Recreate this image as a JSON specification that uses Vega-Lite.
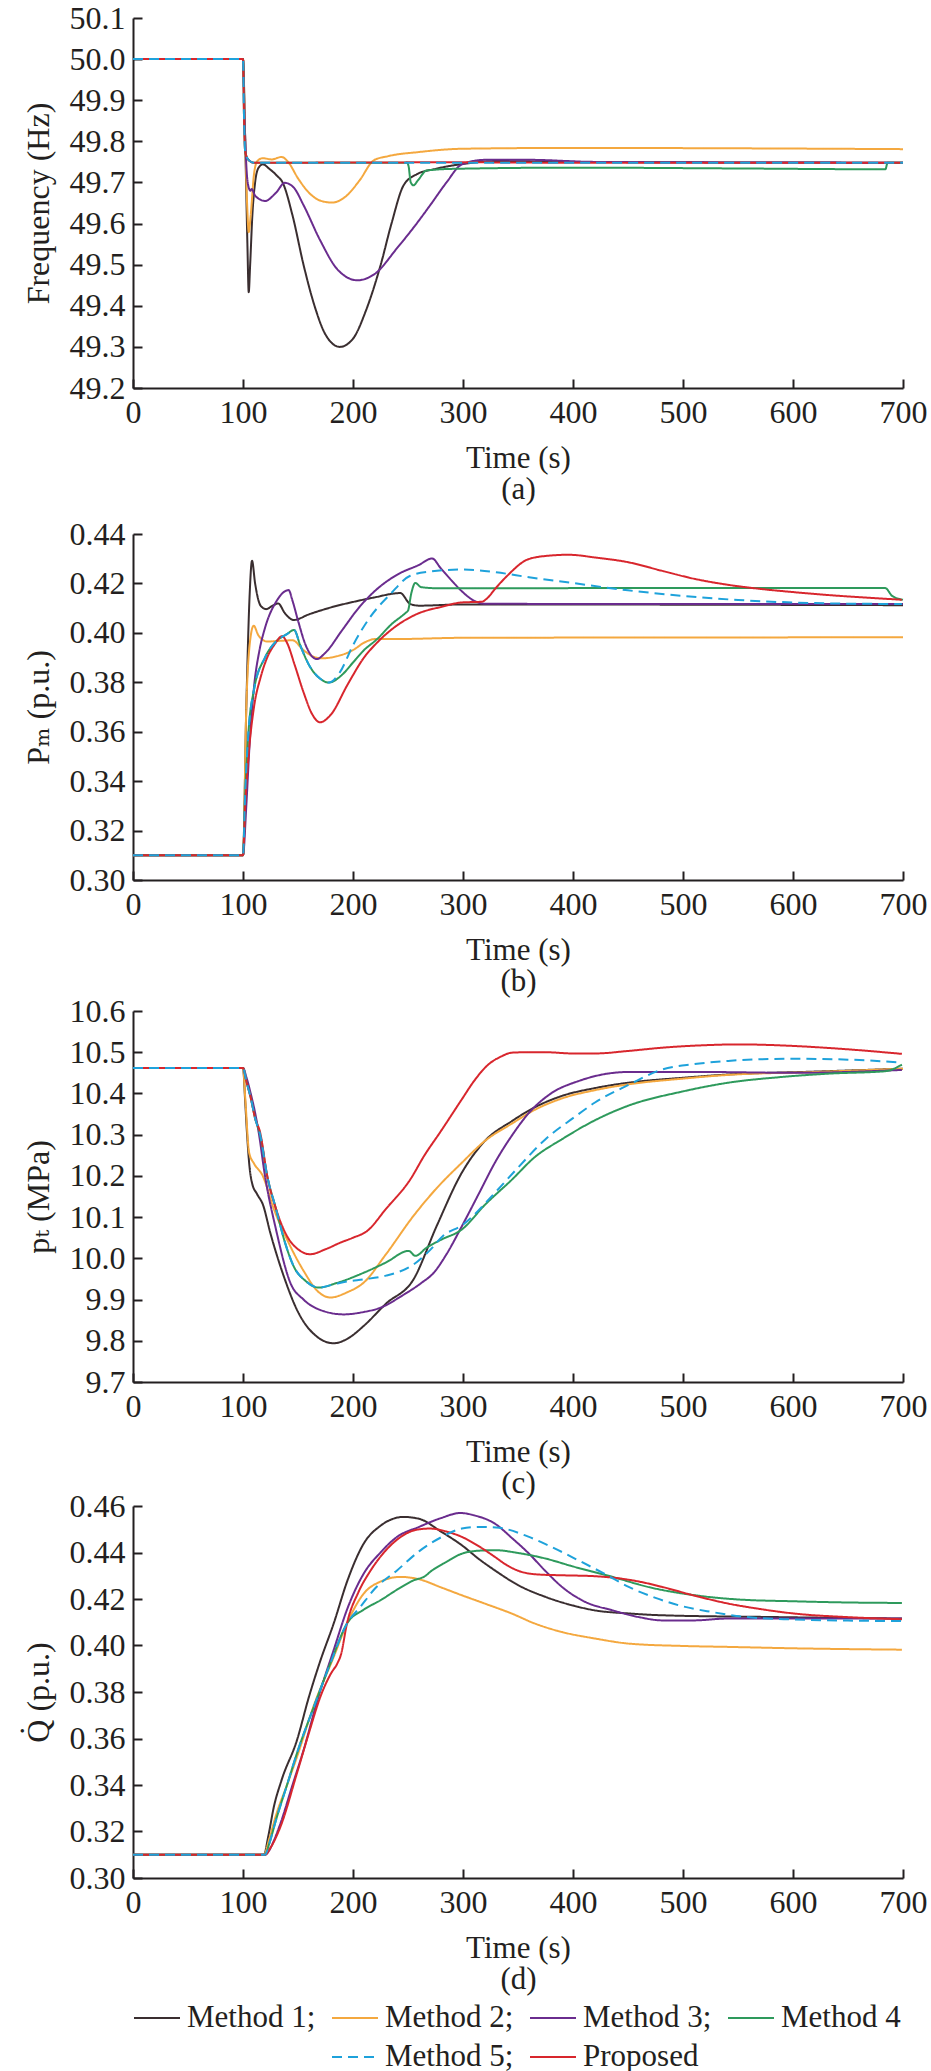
{
  "$schema": "https://vega.github.io/schema/vega-lite/v6.json",
  "description": "Frequency, mechanical power, throttle pressure and heat rate responses of six control methods after a load step at 100 s.",
  "background": "white",
  "padding": {"left": 22, "top": 2, "right": 0, "bottom": 0},
  "config": {
    "font": "Liberation Serif, Times New Roman, DejaVu Serif, serif",
    "view": {"stroke": null},
    "line": {"strokeWidth": 2, "interpolate": "monotone"},
    "axis": {
      "grid": false,
      "labelFont": "Liberation Serif, Times New Roman, DejaVu Serif, serif",
      "labelFontSize": 32,
      "labelColor": "#231f20",
      "labelFlush": false,
      "labelOverlap": false,
      "titleFont": "Liberation Serif, Times New Roman, DejaVu Serif, serif",
      "titleFontSize": 32,
      "titleFontWeight": "normal",
      "titleColor": "#231f20",
      "domainColor": "#231f20",
      "domainWidth": 2,
      "tickColor": "#231f20",
      "tickWidth": 2,
      "tickSize": -9
    },
    "axisX": {"labelPadding": 18, "titlePadding": 15, "titleFontSize": 31, "titleLineHeight": 31},
    "axisY": {"labelPadding": 17, "titlePadding": 14},
    "legend": {
      "orient": "bottom",
      "direction": "horizontal",
      "columns": 4,
      "symbolType": "stroke",
      "symbolSize": 2116,
      "symbolStrokeWidth": 2,
      "labelFont": "Liberation Serif, Times New Roman, DejaVu Serif, serif",
      "labelFontSize": 31,
      "labelColor": "#231f20",
      "labelOffset": 6,
      "labelLimit": 0,
      "columnPadding": 12,
      "rowPadding": -12,
      "offset": 0,
      "padding": 0
    }
  },
  "datasets": {
    "a": [
      {"m": "Method 1", "t": 0, "v": 50.0}, {"m": "Method 1", "t": 100, "v": 50.0}, {"m": "Method 1", "t": 102, "v": 49.8},
      {"m": "Method 1", "t": 104, "v": 49.55}, {"m": "Method 1", "t": 105.2, "v": 49.433}, {"m": "Method 1", "t": 106.5, "v": 49.5},
      {"m": "Method 1", "t": 108.5, "v": 49.62}, {"m": "Method 1", "t": 111, "v": 49.7}, {"m": "Method 1", "t": 114, "v": 49.735},
      {"m": "Method 1", "t": 118, "v": 49.744}, {"m": "Method 1", "t": 124, "v": 49.733}, {"m": "Method 1", "t": 131, "v": 49.716},
      {"m": "Method 1", "t": 136, "v": 49.7}, {"m": "Method 1", "t": 145, "v": 49.62}, {"m": "Method 1", "t": 155, "v": 49.5},
      {"m": "Method 1", "t": 165, "v": 49.4}, {"m": "Method 1", "t": 175, "v": 49.33}, {"m": "Method 1", "t": 188, "v": 49.3},
      {"m": "Method 1", "t": 200, "v": 49.32}, {"m": "Method 1", "t": 212, "v": 49.39}, {"m": "Method 1", "t": 225, "v": 49.498},
      {"m": "Method 1", "t": 235, "v": 49.6}, {"m": "Method 1", "t": 246, "v": 49.693}, {"m": "Method 1", "t": 258, "v": 49.72},
      {"m": "Method 1", "t": 275, "v": 49.733}, {"m": "Method 1", "t": 300, "v": 49.745}, {"m": "Method 1", "t": 330, "v": 49.752},
      {"m": "Method 1", "t": 400, "v": 49.75}, {"m": "Method 1", "t": 700, "v": 49.748},

      {"m": "Method 2", "t": 0, "v": 50.0}, {"m": "Method 2", "t": 100, "v": 50.0}, {"m": "Method 2", "t": 102, "v": 49.8},
      {"m": "Method 2", "t": 104, "v": 49.63}, {"m": "Method 2", "t": 105.2, "v": 49.579}, {"m": "Method 2", "t": 107, "v": 49.62},
      {"m": "Method 2", "t": 110, "v": 49.72}, {"m": "Method 2", "t": 113, "v": 49.752}, {"m": "Method 2", "t": 118, "v": 49.759},
      {"m": "Method 2", "t": 126, "v": 49.756}, {"m": "Method 2", "t": 135, "v": 49.762}, {"m": "Method 2", "t": 141, "v": 49.75},
      {"m": "Method 2", "t": 150, "v": 49.71}, {"m": "Method 2", "t": 160, "v": 49.675}, {"m": "Method 2", "t": 170, "v": 49.656},
      {"m": "Method 2", "t": 181, "v": 49.651}, {"m": "Method 2", "t": 193, "v": 49.665}, {"m": "Method 2", "t": 206, "v": 49.705},
      {"m": "Method 2", "t": 219, "v": 49.754}, {"m": "Method 2", "t": 232, "v": 49.764}, {"m": "Method 2", "t": 260, "v": 49.774},
      {"m": "Method 2", "t": 300, "v": 49.782}, {"m": "Method 2", "t": 400, "v": 49.784}, {"m": "Method 2", "t": 550, "v": 49.783},
      {"m": "Method 2", "t": 700, "v": 49.781},

      {"m": "Method 3", "t": 0, "v": 50.0}, {"m": "Method 3", "t": 100, "v": 50.0}, {"m": "Method 3", "t": 101.5, "v": 49.85},
      {"m": "Method 3", "t": 103.5, "v": 49.72}, {"m": "Method 3", "t": 105.5, "v": 49.685}, {"m": "Method 3", "t": 106.7, "v": 49.68},
      {"m": "Method 3", "t": 108, "v": 49.684}, {"m": "Method 3", "t": 111, "v": 49.668}, {"m": "Method 3", "t": 120, "v": 49.655},
      {"m": "Method 3", "t": 130, "v": 49.675}, {"m": "Method 3", "t": 138, "v": 49.699}, {"m": "Method 3", "t": 146, "v": 49.688},
      {"m": "Method 3", "t": 155, "v": 49.645}, {"m": "Method 3", "t": 170, "v": 49.56}, {"m": "Method 3", "t": 186, "v": 49.488},
      {"m": "Method 3", "t": 204, "v": 49.462}, {"m": "Method 3", "t": 220, "v": 49.478}, {"m": "Method 3", "t": 240, "v": 49.54},
      {"m": "Method 3", "t": 255, "v": 49.59}, {"m": "Method 3", "t": 270, "v": 49.644}, {"m": "Method 3", "t": 285, "v": 49.7},
      {"m": "Method 3", "t": 299, "v": 49.744}, {"m": "Method 3", "t": 320, "v": 49.755}, {"m": "Method 3", "t": 360, "v": 49.755},
      {"m": "Method 3", "t": 420, "v": 49.75}, {"m": "Method 3", "t": 700, "v": 49.748},

      {"m": "Method 4", "t": 0, "v": 50.0}, {"m": "Method 4", "t": 100, "v": 50.0}, {"m": "Method 4", "t": 101, "v": 49.85},
      {"m": "Method 4", "t": 102, "v": 49.775}, {"m": "Method 4", "t": 105, "v": 49.755}, {"m": "Method 4", "t": 110, "v": 49.748},
      {"m": "Method 4", "t": 249, "v": 49.748}, {"m": "Method 4", "t": 250.5, "v": 49.74}, {"m": "Method 4", "t": 252.5, "v": 49.7},
      {"m": "Method 4", "t": 255, "v": 49.693}, {"m": "Method 4", "t": 259, "v": 49.705}, {"m": "Method 4", "t": 267, "v": 49.729},
      {"m": "Method 4", "t": 290, "v": 49.733}, {"m": "Method 4", "t": 400, "v": 49.736}, {"m": "Method 4", "t": 550, "v": 49.734},
      {"m": "Method 4", "t": 684, "v": 49.732}, {"m": "Method 4", "t": 686, "v": 49.748}, {"m": "Method 4", "t": 700, "v": 49.748},

      {"m": "Proposed", "t": 0, "v": 50.0}, {"m": "Proposed", "t": 100, "v": 50.0}, {"m": "Proposed", "t": 101, "v": 49.85},
      {"m": "Proposed", "t": 102, "v": 49.775}, {"m": "Proposed", "t": 105, "v": 49.755}, {"m": "Proposed", "t": 110, "v": 49.748},
      {"m": "Proposed", "t": 300, "v": 49.749}, {"m": "Proposed", "t": 400, "v": 49.748}, {"m": "Proposed", "t": 700, "v": 49.748},

      {"m": "Method 5", "t": 0, "v": 50.0}, {"m": "Method 5", "t": 100, "v": 50.0}, {"m": "Method 5", "t": 101, "v": 49.85},
      {"m": "Method 5", "t": 102, "v": 49.775}, {"m": "Method 5", "t": 105, "v": 49.755}, {"m": "Method 5", "t": 110, "v": 49.748},
      {"m": "Method 5", "t": 300, "v": 49.748}, {"m": "Method 5", "t": 400, "v": 49.748}, {"m": "Method 5", "t": 700, "v": 49.748}
    ],
    "b": [
      {"m": "Method 1", "t": 0, "v": 0.31}, {"m": "Method 1", "t": 100, "v": 0.31}, {"m": "Method 1", "t": 103, "v": 0.37},
      {"m": "Method 1", "t": 106, "v": 0.415}, {"m": "Method 1", "t": 108.2, "v": 0.4292}, {"m": "Method 1", "t": 111, "v": 0.42},
      {"m": "Method 1", "t": 116, "v": 0.411}, {"m": "Method 1", "t": 121, "v": 0.4096}, {"m": "Method 1", "t": 127, "v": 0.411},
      {"m": "Method 1", "t": 132, "v": 0.4119}, {"m": "Method 1", "t": 138, "v": 0.408}, {"m": "Method 1", "t": 146, "v": 0.4052},
      {"m": "Method 1", "t": 160, "v": 0.4075}, {"m": "Method 1", "t": 180, "v": 0.4103}, {"m": "Method 1", "t": 200, "v": 0.4125},
      {"m": "Method 1", "t": 219, "v": 0.4143}, {"m": "Method 1", "t": 243, "v": 0.4161}, {"m": "Method 1", "t": 252, "v": 0.4117},
      {"m": "Method 1", "t": 260, "v": 0.411}, {"m": "Method 1", "t": 300, "v": 0.4115}, {"m": "Method 1", "t": 700, "v": 0.4112},

      {"m": "Method 2", "t": 0, "v": 0.31}, {"m": "Method 2", "t": 100, "v": 0.31}, {"m": "Method 2", "t": 103, "v": 0.37},
      {"m": "Method 2", "t": 106, "v": 0.395}, {"m": "Method 2", "t": 109.7, "v": 0.4029}, {"m": "Method 2", "t": 114, "v": 0.399},
      {"m": "Method 2", "t": 122, "v": 0.3965}, {"m": "Method 2", "t": 135, "v": 0.3968}, {"m": "Method 2", "t": 145, "v": 0.397},
      {"m": "Method 2", "t": 155, "v": 0.393}, {"m": "Method 2", "t": 165, "v": 0.3902}, {"m": "Method 2", "t": 172, "v": 0.3897},
      {"m": "Method 2", "t": 185, "v": 0.3905}, {"m": "Method 2", "t": 200, "v": 0.393}, {"m": "Method 2", "t": 210, "v": 0.396},
      {"m": "Method 2", "t": 220, "v": 0.3975}, {"m": "Method 2", "t": 240, "v": 0.3975}, {"m": "Method 2", "t": 300, "v": 0.398},
      {"m": "Method 2", "t": 700, "v": 0.3982},

      {"m": "Method 3", "t": 0, "v": 0.31}, {"m": "Method 3", "t": 100, "v": 0.31}, {"m": "Method 3", "t": 103, "v": 0.33},
      {"m": "Method 3", "t": 106, "v": 0.355}, {"m": "Method 3", "t": 110, "v": 0.378}, {"m": "Method 3", "t": 115, "v": 0.393},
      {"m": "Method 3", "t": 120, "v": 0.402}, {"m": "Method 3", "t": 130, "v": 0.4125}, {"m": "Method 3", "t": 141.5, "v": 0.4173},
      {"m": "Method 3", "t": 145, "v": 0.413}, {"m": "Method 3", "t": 150, "v": 0.405}, {"m": "Method 3", "t": 157, "v": 0.395},
      {"m": "Method 3", "t": 167, "v": 0.3894}, {"m": "Method 3", "t": 175, "v": 0.392}, {"m": "Method 3", "t": 190, "v": 0.401},
      {"m": "Method 3", "t": 205, "v": 0.41}, {"m": "Method 3", "t": 220, "v": 0.417}, {"m": "Method 3", "t": 240, "v": 0.4235},
      {"m": "Method 3", "t": 260, "v": 0.4275}, {"m": "Method 3", "t": 271.8, "v": 0.4301}, {"m": "Method 3", "t": 280, "v": 0.426},
      {"m": "Method 3", "t": 290, "v": 0.421}, {"m": "Method 3", "t": 300, "v": 0.4164}, {"m": "Method 3", "t": 310, "v": 0.413},
      {"m": "Method 3", "t": 320, "v": 0.4118}, {"m": "Method 3", "t": 400, "v": 0.4117}, {"m": "Method 3", "t": 700, "v": 0.4117},

      {"m": "Method 4", "t": 0, "v": 0.31}, {"m": "Method 4", "t": 100, "v": 0.31}, {"m": "Method 4", "t": 102, "v": 0.335},
      {"m": "Method 4", "t": 105, "v": 0.36}, {"m": "Method 4", "t": 110, "v": 0.377}, {"m": "Method 4", "t": 120, "v": 0.39},
      {"m": "Method 4", "t": 130, "v": 0.3965}, {"m": "Method 4", "t": 140, "v": 0.3995}, {"m": "Method 4", "t": 146.4, "v": 0.4012},
      {"m": "Method 4", "t": 152, "v": 0.395}, {"m": "Method 4", "t": 160, "v": 0.387}, {"m": "Method 4", "t": 170, "v": 0.3815},
      {"m": "Method 4", "t": 178, "v": 0.3799}, {"m": "Method 4", "t": 190, "v": 0.383}, {"m": "Method 4", "t": 200, "v": 0.388},
      {"m": "Method 4", "t": 210, "v": 0.393}, {"m": "Method 4", "t": 222, "v": 0.3975}, {"m": "Method 4", "t": 235, "v": 0.4035},
      {"m": "Method 4", "t": 247.6, "v": 0.408}, {"m": "Method 4", "t": 250, "v": 0.409}, {"m": "Method 4", "t": 253, "v": 0.416},
      {"m": "Method 4", "t": 256.6, "v": 0.4202}, {"m": "Method 4", "t": 262, "v": 0.4185}, {"m": "Method 4", "t": 280, "v": 0.418},
      {"m": "Method 4", "t": 400, "v": 0.4181}, {"m": "Method 4", "t": 684, "v": 0.4181}, {"m": "Method 4", "t": 690, "v": 0.415},
      {"m": "Method 4", "t": 700, "v": 0.4134},

      {"m": "Proposed", "t": 0, "v": 0.31}, {"m": "Proposed", "t": 100, "v": 0.31}, {"m": "Proposed", "t": 102, "v": 0.33},
      {"m": "Proposed", "t": 105, "v": 0.35}, {"m": "Proposed", "t": 110, "v": 0.37}, {"m": "Proposed", "t": 116, "v": 0.382},
      {"m": "Proposed", "t": 122, "v": 0.39}, {"m": "Proposed", "t": 129, "v": 0.3955}, {"m": "Proposed", "t": 135.5, "v": 0.3986},
      {"m": "Proposed", "t": 140, "v": 0.396}, {"m": "Proposed", "t": 147, "v": 0.387}, {"m": "Proposed", "t": 155, "v": 0.376},
      {"m": "Proposed", "t": 163, "v": 0.367}, {"m": "Proposed", "t": 170, "v": 0.3638}, {"m": "Proposed", "t": 180, "v": 0.367},
      {"m": "Proposed", "t": 195, "v": 0.379}, {"m": "Proposed", "t": 210, "v": 0.39}, {"m": "Proposed", "t": 222, "v": 0.3961},
      {"m": "Proposed", "t": 240, "v": 0.403}, {"m": "Proposed", "t": 258, "v": 0.4076}, {"m": "Proposed", "t": 280, "v": 0.4105},
      {"m": "Proposed", "t": 299, "v": 0.4123}, {"m": "Proposed", "t": 317, "v": 0.4126}, {"m": "Proposed", "t": 322, "v": 0.414},
      {"m": "Proposed", "t": 329, "v": 0.4177}, {"m": "Proposed", "t": 340, "v": 0.423}, {"m": "Proposed", "t": 360, "v": 0.4299},
      {"m": "Proposed", "t": 380, "v": 0.4313}, {"m": "Proposed", "t": 396, "v": 0.4316}, {"m": "Proposed", "t": 420, "v": 0.4305},
      {"m": "Proposed", "t": 451, "v": 0.4285}, {"m": "Proposed", "t": 480, "v": 0.4252}, {"m": "Proposed", "t": 511, "v": 0.4218},
      {"m": "Proposed", "t": 540, "v": 0.4195}, {"m": "Proposed", "t": 572, "v": 0.4177}, {"m": "Proposed", "t": 600, "v": 0.4165},
      {"m": "Proposed", "t": 632, "v": 0.4153}, {"m": "Proposed", "t": 665, "v": 0.4143}, {"m": "Proposed", "t": 699, "v": 0.4134},

      {"m": "Method 5", "t": 0, "v": 0.31}, {"m": "Method 5", "t": 100, "v": 0.31}, {"m": "Method 5", "t": 102, "v": 0.335},
      {"m": "Method 5", "t": 105, "v": 0.36}, {"m": "Method 5", "t": 110, "v": 0.377}, {"m": "Method 5", "t": 120, "v": 0.39},
      {"m": "Method 5", "t": 130, "v": 0.3965}, {"m": "Method 5", "t": 140, "v": 0.3995}, {"m": "Method 5", "t": 146.4, "v": 0.4012},
      {"m": "Method 5", "t": 152, "v": 0.395}, {"m": "Method 5", "t": 160, "v": 0.387}, {"m": "Method 5", "t": 170, "v": 0.3815},
      {"m": "Method 5", "t": 178, "v": 0.3799}, {"m": "Method 5", "t": 188, "v": 0.384}, {"m": "Method 5", "t": 200, "v": 0.395},
      {"m": "Method 5", "t": 215, "v": 0.406}, {"m": "Method 5", "t": 234, "v": 0.4157}, {"m": "Method 5", "t": 252, "v": 0.4231},
      {"m": "Method 5", "t": 270, "v": 0.4248}, {"m": "Method 5", "t": 299, "v": 0.4256}, {"m": "Method 5", "t": 330, "v": 0.4245},
      {"m": "Method 5", "t": 360, "v": 0.4225}, {"m": "Method 5", "t": 399, "v": 0.4202}, {"m": "Method 5", "t": 450, "v": 0.4172},
      {"m": "Method 5", "t": 499, "v": 0.415}, {"m": "Method 5", "t": 550, "v": 0.4133}, {"m": "Method 5", "t": 599, "v": 0.4123},
      {"m": "Method 5", "t": 650, "v": 0.4118}, {"m": "Method 5", "t": 699, "v": 0.4117}
    ],
    "c": [
      {"m": "Method 1", "t": 0, "v": 10.462}, {"m": "Method 1", "t": 100, "v": 10.462}, {"m": "Method 1", "t": 102, "v": 10.38},
      {"m": "Method 1", "t": 103.6, "v": 10.305}, {"m": "Method 1", "t": 106, "v": 10.22}, {"m": "Method 1", "t": 108.2, "v": 10.183},
      {"m": "Method 1", "t": 113, "v": 10.155}, {"m": "Method 1", "t": 118, "v": 10.131}, {"m": "Method 1", "t": 125, "v": 10.06},
      {"m": "Method 1", "t": 137, "v": 9.957}, {"m": "Method 1", "t": 150, "v": 9.87}, {"m": "Method 1", "t": 165, "v": 9.815},
      {"m": "Method 1", "t": 182.4, "v": 9.794}, {"m": "Method 1", "t": 195, "v": 9.805}, {"m": "Method 1", "t": 209.7, "v": 9.836},
      {"m": "Method 1", "t": 230, "v": 9.89}, {"m": "Method 1", "t": 255, "v": 9.949}, {"m": "Method 1", "t": 276, "v": 10.078},
      {"m": "Method 1", "t": 299, "v": 10.208}, {"m": "Method 1", "t": 320, "v": 10.285}, {"m": "Method 1", "t": 344.5, "v": 10.333},
      {"m": "Method 1", "t": 365, "v": 10.366}, {"m": "Method 1", "t": 390, "v": 10.394}, {"m": "Method 1", "t": 420, "v": 10.413},
      {"m": "Method 1", "t": 450, "v": 10.426}, {"m": "Method 1", "t": 500, "v": 10.438}, {"m": "Method 1", "t": 541, "v": 10.446},
      {"m": "Method 1", "t": 620, "v": 10.453}, {"m": "Method 1", "t": 700, "v": 10.46},

      {"m": "Method 2", "t": 0, "v": 10.462}, {"m": "Method 2", "t": 100, "v": 10.462}, {"m": "Method 2", "t": 102, "v": 10.39},
      {"m": "Method 2", "t": 105.6, "v": 10.256}, {"m": "Method 2", "t": 110, "v": 10.23}, {"m": "Method 2", "t": 118, "v": 10.2},
      {"m": "Method 2", "t": 128, "v": 10.12}, {"m": "Method 2", "t": 140, "v": 10.046}, {"m": "Method 2", "t": 155, "v": 9.97},
      {"m": "Method 2", "t": 168, "v": 9.92}, {"m": "Method 2", "t": 179.4, "v": 9.905}, {"m": "Method 2", "t": 195, "v": 9.918},
      {"m": "Method 2", "t": 209.7, "v": 9.941}, {"m": "Method 2", "t": 230, "v": 10.01}, {"m": "Method 2", "t": 255, "v": 10.103},
      {"m": "Method 2", "t": 276, "v": 10.17}, {"m": "Method 2", "t": 299, "v": 10.232}, {"m": "Method 2", "t": 320, "v": 10.285},
      {"m": "Method 2", "t": 344.5, "v": 10.327}, {"m": "Method 2", "t": 365, "v": 10.36}, {"m": "Method 2", "t": 390, "v": 10.388},
      {"m": "Method 2", "t": 420, "v": 10.408}, {"m": "Method 2", "t": 450, "v": 10.422}, {"m": "Method 2", "t": 500, "v": 10.436},
      {"m": "Method 2", "t": 541, "v": 10.445}, {"m": "Method 2", "t": 620, "v": 10.452}, {"m": "Method 2", "t": 700, "v": 10.46},

      {"m": "Method 3", "t": 0, "v": 10.462}, {"m": "Method 3", "t": 100, "v": 10.462}, {"m": "Method 3", "t": 103, "v": 10.44},
      {"m": "Method 3", "t": 107, "v": 10.4}, {"m": "Method 3", "t": 111, "v": 10.353}, {"m": "Method 3", "t": 114.3, "v": 10.305},
      {"m": "Method 3", "t": 120, "v": 10.2}, {"m": "Method 3", "t": 130, "v": 10.07}, {"m": "Method 3", "t": 143, "v": 9.941},
      {"m": "Method 3", "t": 155, "v": 9.9}, {"m": "Method 3", "t": 170, "v": 9.875}, {"m": "Method 3", "t": 191.5, "v": 9.864},
      {"m": "Method 3", "t": 210, "v": 9.87}, {"m": "Method 3", "t": 224.8, "v": 9.88}, {"m": "Method 3", "t": 245, "v": 9.91},
      {"m": "Method 3", "t": 262, "v": 9.94}, {"m": "Method 3", "t": 273.4, "v": 9.965}, {"m": "Method 3", "t": 285, "v": 10.01},
      {"m": "Method 3", "t": 299, "v": 10.078}, {"m": "Method 3", "t": 315, "v": 10.16}, {"m": "Method 3", "t": 329, "v": 10.232},
      {"m": "Method 3", "t": 345, "v": 10.3}, {"m": "Method 3", "t": 360, "v": 10.353}, {"m": "Method 3", "t": 380, "v": 10.4},
      {"m": "Method 3", "t": 405, "v": 10.43}, {"m": "Method 3", "t": 450, "v": 10.452}, {"m": "Method 3", "t": 520, "v": 10.452},
      {"m": "Method 3", "t": 602, "v": 10.45}, {"m": "Method 3", "t": 699, "v": 10.457},

      {"m": "Method 4", "t": 0, "v": 10.462}, {"m": "Method 4", "t": 100, "v": 10.462}, {"m": "Method 4", "t": 103, "v": 10.43},
      {"m": "Method 4", "t": 107, "v": 10.39}, {"m": "Method 4", "t": 111, "v": 10.34}, {"m": "Method 4", "t": 115.6, "v": 10.3},
      {"m": "Method 4", "t": 122, "v": 10.2}, {"m": "Method 4", "t": 130, "v": 10.12}, {"m": "Method 4", "t": 138, "v": 10.04},
      {"m": "Method 4", "t": 146, "v": 9.981}, {"m": "Method 4", "t": 157, "v": 9.945}, {"m": "Method 4", "t": 168.8, "v": 9.929},
      {"m": "Method 4", "t": 185, "v": 9.94}, {"m": "Method 4", "t": 209.7, "v": 9.965}, {"m": "Method 4", "t": 230, "v": 9.99},
      {"m": "Method 4", "t": 250.6, "v": 10.018}, {"m": "Method 4", "t": 256.7, "v": 10.006}, {"m": "Method 4", "t": 267, "v": 10.026},
      {"m": "Method 4", "t": 280, "v": 10.045}, {"m": "Method 4", "t": 299, "v": 10.07}, {"m": "Method 4", "t": 320, "v": 10.13},
      {"m": "Method 4", "t": 344.5, "v": 10.191}, {"m": "Method 4", "t": 365, "v": 10.245}, {"m": "Method 4", "t": 390, "v": 10.289},
      {"m": "Method 4", "t": 420, "v": 10.335}, {"m": "Method 4", "t": 450, "v": 10.37}, {"m": "Method 4", "t": 500, "v": 10.405},
      {"m": "Method 4", "t": 541, "v": 10.426}, {"m": "Method 4", "t": 590, "v": 10.44}, {"m": "Method 4", "t": 632, "v": 10.448},
      {"m": "Method 4", "t": 684, "v": 10.454}, {"m": "Method 4", "t": 699, "v": 10.47},

      {"m": "Proposed", "t": 0, "v": 10.462}, {"m": "Proposed", "t": 100, "v": 10.462}, {"m": "Proposed", "t": 103, "v": 10.43},
      {"m": "Proposed", "t": 107, "v": 10.39}, {"m": "Proposed", "t": 111, "v": 10.34}, {"m": "Proposed", "t": 115.6, "v": 10.305},
      {"m": "Proposed", "t": 122, "v": 10.2}, {"m": "Proposed", "t": 130, "v": 10.12}, {"m": "Proposed", "t": 140, "v": 10.054},
      {"m": "Proposed", "t": 150, "v": 10.022}, {"m": "Proposed", "t": 161, "v": 10.01}, {"m": "Proposed", "t": 175, "v": 10.022},
      {"m": "Proposed", "t": 188.5, "v": 10.038}, {"m": "Proposed", "t": 200, "v": 10.05}, {"m": "Proposed", "t": 212.7, "v": 10.066},
      {"m": "Proposed", "t": 230, "v": 10.12}, {"m": "Proposed", "t": 252, "v": 10.191}, {"m": "Proposed", "t": 265, "v": 10.25},
      {"m": "Proposed", "t": 279, "v": 10.305}, {"m": "Proposed", "t": 299, "v": 10.386}, {"m": "Proposed", "t": 310, "v": 10.43},
      {"m": "Proposed", "t": 323, "v": 10.47}, {"m": "Proposed", "t": 335, "v": 10.49}, {"m": "Proposed", "t": 344.5, "v": 10.499},
      {"m": "Proposed", "t": 360, "v": 10.5}, {"m": "Proposed", "t": 375, "v": 10.5}, {"m": "Proposed", "t": 400, "v": 10.497},
      {"m": "Proposed", "t": 420, "v": 10.497}, {"m": "Proposed", "t": 450, "v": 10.503}, {"m": "Proposed", "t": 481, "v": 10.511},
      {"m": "Proposed", "t": 520, "v": 10.517}, {"m": "Proposed", "t": 550, "v": 10.519}, {"m": "Proposed", "t": 602, "v": 10.515},
      {"m": "Proposed", "t": 650, "v": 10.507}, {"m": "Proposed", "t": 699, "v": 10.496},

      {"m": "Method 5", "t": 0, "v": 10.462}, {"m": "Method 5", "t": 100, "v": 10.462}, {"m": "Method 5", "t": 103, "v": 10.43},
      {"m": "Method 5", "t": 107, "v": 10.39}, {"m": "Method 5", "t": 111, "v": 10.34}, {"m": "Method 5", "t": 115.6, "v": 10.3},
      {"m": "Method 5", "t": 122, "v": 10.2}, {"m": "Method 5", "t": 130, "v": 10.12}, {"m": "Method 5", "t": 138, "v": 10.04},
      {"m": "Method 5", "t": 146, "v": 9.981}, {"m": "Method 5", "t": 157, "v": 9.945}, {"m": "Method 5", "t": 168.8, "v": 9.929},
      {"m": "Method 5", "t": 180, "v": 9.935}, {"m": "Method 5", "t": 195, "v": 9.944}, {"m": "Method 5", "t": 209.7, "v": 9.949},
      {"m": "Method 5", "t": 230, "v": 9.958}, {"m": "Method 5", "t": 255, "v": 9.985}, {"m": "Method 5", "t": 270, "v": 10.02},
      {"m": "Method 5", "t": 282, "v": 10.055}, {"m": "Method 5", "t": 299, "v": 10.08}, {"m": "Method 5", "t": 329, "v": 10.159},
      {"m": "Method 5", "t": 350, "v": 10.22}, {"m": "Method 5", "t": 375, "v": 10.289}, {"m": "Method 5", "t": 400, "v": 10.34},
      {"m": "Method 5", "t": 420, "v": 10.378}, {"m": "Method 5", "t": 450, "v": 10.42}, {"m": "Method 5", "t": 481, "v": 10.458},
      {"m": "Method 5", "t": 510, "v": 10.471}, {"m": "Method 5", "t": 541, "v": 10.479}, {"m": "Method 5", "t": 570, "v": 10.483},
      {"m": "Method 5", "t": 602, "v": 10.484}, {"m": "Method 5", "t": 650, "v": 10.482}, {"m": "Method 5", "t": 699, "v": 10.475}
    ],
    "d": [
      {"m": "Method 1", "t": 0, "v": 0.31}, {"m": "Method 1", "t": 119, "v": 0.31}, {"m": "Method 1", "t": 123, "v": 0.318},
      {"m": "Method 1", "t": 128, "v": 0.3305}, {"m": "Method 1", "t": 135, "v": 0.342}, {"m": "Method 1", "t": 149, "v": 0.3592},
      {"m": "Method 1", "t": 160, "v": 0.378}, {"m": "Method 1", "t": 170, "v": 0.393}, {"m": "Method 1", "t": 182.4, "v": 0.4094},
      {"m": "Method 1", "t": 195, "v": 0.428}, {"m": "Method 1", "t": 209.7, "v": 0.4438}, {"m": "Method 1", "t": 225, "v": 0.4515},
      {"m": "Method 1", "t": 246, "v": 0.4553}, {"m": "Method 1", "t": 260, "v": 0.4545}, {"m": "Method 1", "t": 280, "v": 0.449},
      {"m": "Method 1", "t": 299, "v": 0.4431}, {"m": "Method 1", "t": 315, "v": 0.437}, {"m": "Method 1", "t": 329, "v": 0.4323},
      {"m": "Method 1", "t": 350, "v": 0.426}, {"m": "Method 1", "t": 375, "v": 0.4209}, {"m": "Method 1", "t": 400, "v": 0.4172},
      {"m": "Method 1", "t": 420, "v": 0.4151}, {"m": "Method 1", "t": 450, "v": 0.4138}, {"m": "Method 1", "t": 481, "v": 0.413},
      {"m": "Method 1", "t": 572, "v": 0.4123}, {"m": "Method 1", "t": 699, "v": 0.4116},

      {"m": "Method 2", "t": 0, "v": 0.31}, {"m": "Method 2", "t": 119, "v": 0.31}, {"m": "Method 2", "t": 124, "v": 0.317},
      {"m": "Method 2", "t": 130, "v": 0.327}, {"m": "Method 2", "t": 140, "v": 0.34}, {"m": "Method 2", "t": 149, "v": 0.352},
      {"m": "Method 2", "t": 165, "v": 0.375}, {"m": "Method 2", "t": 182.4, "v": 0.395}, {"m": "Method 2", "t": 195, "v": 0.41},
      {"m": "Method 2", "t": 209.7, "v": 0.4223}, {"m": "Method 2", "t": 225, "v": 0.4275}, {"m": "Method 2", "t": 243, "v": 0.4295},
      {"m": "Method 2", "t": 260, "v": 0.4285}, {"m": "Method 2", "t": 280, "v": 0.425}, {"m": "Method 2", "t": 299, "v": 0.4216},
      {"m": "Method 2", "t": 320, "v": 0.418}, {"m": "Method 2", "t": 344.5, "v": 0.4137}, {"m": "Method 2", "t": 365, "v": 0.4095},
      {"m": "Method 2", "t": 390, "v": 0.4058}, {"m": "Method 2", "t": 420, "v": 0.403}, {"m": "Method 2", "t": 451, "v": 0.4008},
      {"m": "Method 2", "t": 500, "v": 0.3998}, {"m": "Method 2", "t": 541, "v": 0.3994}, {"m": "Method 2", "t": 600, "v": 0.3988},
      {"m": "Method 2", "t": 699, "v": 0.3982},

      {"m": "Method 3", "t": 0, "v": 0.31}, {"m": "Method 3", "t": 120, "v": 0.31}, {"m": "Method 3", "t": 124, "v": 0.312},
      {"m": "Method 3", "t": 128, "v": 0.316}, {"m": "Method 3", "t": 134, "v": 0.3234}, {"m": "Method 3", "t": 145, "v": 0.34},
      {"m": "Method 3", "t": 155, "v": 0.3549}, {"m": "Method 3", "t": 168, "v": 0.377}, {"m": "Method 3", "t": 182.4, "v": 0.398},
      {"m": "Method 3", "t": 195, "v": 0.416}, {"m": "Method 3", "t": 209.7, "v": 0.4309}, {"m": "Method 3", "t": 225, "v": 0.44},
      {"m": "Method 3", "t": 240, "v": 0.4467}, {"m": "Method 3", "t": 260, "v": 0.451}, {"m": "Method 3", "t": 280, "v": 0.4548},
      {"m": "Method 3", "t": 297.6, "v": 0.457}, {"m": "Method 3", "t": 310, "v": 0.456}, {"m": "Method 3", "t": 329, "v": 0.4524},
      {"m": "Method 3", "t": 345, "v": 0.446}, {"m": "Method 3", "t": 360, "v": 0.4395}, {"m": "Method 3", "t": 375, "v": 0.432},
      {"m": "Method 3", "t": 390, "v": 0.4252}, {"m": "Method 3", "t": 410, "v": 0.419}, {"m": "Method 3", "t": 436, "v": 0.4151},
      {"m": "Method 3", "t": 460, "v": 0.4122}, {"m": "Method 3", "t": 481, "v": 0.4108}, {"m": "Method 3", "t": 510, "v": 0.4108},
      {"m": "Method 3", "t": 541, "v": 0.4116}, {"m": "Method 3", "t": 699, "v": 0.4116},

      {"m": "Method 4", "t": 0, "v": 0.31}, {"m": "Method 4", "t": 120, "v": 0.31}, {"m": "Method 4", "t": 124, "v": 0.315},
      {"m": "Method 4", "t": 130, "v": 0.325}, {"m": "Method 4", "t": 140, "v": 0.34}, {"m": "Method 4", "t": 150, "v": 0.355},
      {"m": "Method 4", "t": 164.3, "v": 0.3735}, {"m": "Method 4", "t": 180, "v": 0.393}, {"m": "Method 4", "t": 194.5, "v": 0.4094},
      {"m": "Method 4", "t": 210, "v": 0.4155}, {"m": "Method 4", "t": 224.8, "v": 0.4194}, {"m": "Method 4", "t": 240, "v": 0.424},
      {"m": "Method 4", "t": 255, "v": 0.428}, {"m": "Method 4", "t": 266, "v": 0.43}, {"m": "Method 4", "t": 270, "v": 0.4316},
      {"m": "Method 4", "t": 285, "v": 0.436}, {"m": "Method 4", "t": 299, "v": 0.4395}, {"m": "Method 4", "t": 315, "v": 0.4408},
      {"m": "Method 4", "t": 329, "v": 0.441}, {"m": "Method 4", "t": 350, "v": 0.4398}, {"m": "Method 4", "t": 375, "v": 0.4374},
      {"m": "Method 4", "t": 400, "v": 0.434}, {"m": "Method 4", "t": 436, "v": 0.4295}, {"m": "Method 4", "t": 470, "v": 0.425},
      {"m": "Method 4", "t": 511, "v": 0.4216}, {"m": "Method 4", "t": 550, "v": 0.4198}, {"m": "Method 4", "t": 602, "v": 0.419},
      {"m": "Method 4", "t": 650, "v": 0.4185}, {"m": "Method 4", "t": 699, "v": 0.4183},

      {"m": "Proposed", "t": 0, "v": 0.31}, {"m": "Proposed", "t": 120, "v": 0.31}, {"m": "Proposed", "t": 125, "v": 0.313},
      {"m": "Proposed", "t": 134, "v": 0.322}, {"m": "Proposed", "t": 149, "v": 0.345}, {"m": "Proposed", "t": 160, "v": 0.3625},
      {"m": "Proposed", "t": 170.3, "v": 0.3779}, {"m": "Proposed", "t": 180, "v": 0.388}, {"m": "Proposed", "t": 186, "v": 0.3925},
      {"m": "Proposed", "t": 189, "v": 0.396}, {"m": "Proposed", "t": 194.5, "v": 0.4094}, {"m": "Proposed", "t": 205, "v": 0.423},
      {"m": "Proposed", "t": 215, "v": 0.4315}, {"m": "Proposed", "t": 224.8, "v": 0.4381}, {"m": "Proposed", "t": 240, "v": 0.4455},
      {"m": "Proposed", "t": 258, "v": 0.4498}, {"m": "Proposed", "t": 270, "v": 0.4503}, {"m": "Proposed", "t": 285, "v": 0.449},
      {"m": "Proposed", "t": 299, "v": 0.4467}, {"m": "Proposed", "t": 315, "v": 0.4425}, {"m": "Proposed", "t": 329, "v": 0.4381},
      {"m": "Proposed", "t": 340, "v": 0.4345}, {"m": "Proposed", "t": 353.6, "v": 0.4316}, {"m": "Proposed", "t": 370, "v": 0.4305},
      {"m": "Proposed", "t": 390, "v": 0.4302}, {"m": "Proposed", "t": 420, "v": 0.4298}, {"m": "Proposed", "t": 436, "v": 0.4292},
      {"m": "Proposed", "t": 460, "v": 0.4275}, {"m": "Proposed", "t": 481, "v": 0.4252}, {"m": "Proposed", "t": 510, "v": 0.4215},
      {"m": "Proposed", "t": 541.5, "v": 0.418}, {"m": "Proposed", "t": 570, "v": 0.4157}, {"m": "Proposed", "t": 602, "v": 0.4137},
      {"m": "Proposed", "t": 650, "v": 0.4122}, {"m": "Proposed", "t": 699, "v": 0.4113},

      {"m": "Method 5", "t": 0, "v": 0.31}, {"m": "Method 5", "t": 120, "v": 0.31}, {"m": "Method 5", "t": 124, "v": 0.315},
      {"m": "Method 5", "t": 130, "v": 0.325}, {"m": "Method 5", "t": 140, "v": 0.34}, {"m": "Method 5", "t": 150, "v": 0.355},
      {"m": "Method 5", "t": 164.3, "v": 0.3735}, {"m": "Method 5", "t": 180, "v": 0.393}, {"m": "Method 5", "t": 194.5, "v": 0.4094},
      {"m": "Method 5", "t": 206.7, "v": 0.4166}, {"m": "Method 5", "t": 220, "v": 0.4245}, {"m": "Method 5", "t": 240, "v": 0.4323},
      {"m": "Method 5", "t": 260, "v": 0.4405}, {"m": "Method 5", "t": 280, "v": 0.4465}, {"m": "Method 5", "t": 299, "v": 0.4503},
      {"m": "Method 5", "t": 314, "v": 0.451}, {"m": "Method 5", "t": 330, "v": 0.4508}, {"m": "Method 5", "t": 360, "v": 0.4467},
      {"m": "Method 5", "t": 380, "v": 0.4425}, {"m": "Method 5", "t": 405, "v": 0.4366}, {"m": "Method 5", "t": 430, "v": 0.4305},
      {"m": "Method 5", "t": 450.6, "v": 0.4252}, {"m": "Method 5", "t": 475, "v": 0.4205}, {"m": "Method 5", "t": 496, "v": 0.4173},
      {"m": "Method 5", "t": 525, "v": 0.4145}, {"m": "Method 5", "t": 556.6, "v": 0.4123}, {"m": "Method 5", "t": 600, "v": 0.4112},
      {"m": "Method 5", "t": 650, "v": 0.4107}, {"m": "Method 5", "t": 699, "v": 0.4105}
    ]
  },
  "spacing": -1,
  "vconcat": [
    {
      "spacing": 14,
      "vconcat": [
        {
          "width": 770,
          "height": 370,
          "data": {"name": "a"},
          "encoding": {
            "x": {"field": "t", "type": "quantitative", "scale": {"domain": [0, 700], "nice": false},
                  "axis": {"values": [0, 100, 200, 300, 400, 500, 600, 700], "format": "d", "title": ["Time (s)", "(a)"]}},
            "y": {"field": "v", "type": "quantitative", "scale": {"domain": [49.2, 50.1], "nice": false, "zero": false},
                  "axis": {"values": [49.2, 49.3, 49.4, 49.5, 49.6, 49.7, 49.8, 49.9, 50.0, 50.1], "format": ".1f", "title": "Frequency (Hz)"}},
            "color": {"field": "m", "type": "nominal",
                      "scale": {"domain": ["Method 1", "Method 2", "Method 3", "Method 4", "_", "Method 5", "Proposed"],
                                "range": ["#3a2e30", "#f4a83f", "#6a2c8e", "#2e9a5c", "rgba(0,0,0,0)", "#1ea2db", "#d8262d"]},
                      "legend": {"title": null, "labelExpr": "datum.label == '_' ? '' : (datum.label == 'Method 4' || datum.label == 'Proposed' ? datum.label : datum.label + ';')"}},
            "strokeDash": {"field": "m", "type": "nominal",
                           "scale": {"domain": ["Method 1", "Method 2", "Method 3", "Method 4", "_", "Method 5", "Proposed"],
                                     "range": [[1, 0], [1, 0], [1, 0], [1, 0], [1, 0], [10, 6], [1, 0]]},
                           "legend": {"title": null, "labelExpr": "datum.label == '_' ? '' : (datum.label == 'Method 4' || datum.label == 'Proposed' ? datum.label : datum.label + ';')"}}
          },
          "layer": [
            {"transform": [{"filter": "datum.m != 'Method 5'"}], "mark": {"type": "line"}},
            {"transform": [{"filter": "datum.m == 'Method 5'"}], "mark": {"type": "line"}}
          ]
        },
        {
          "width": 770,
          "height": 346,
          "data": {"name": "b"},
          "encoding": {
            "x": {"field": "t", "type": "quantitative", "scale": {"domain": [0, 700], "nice": false},
                  "axis": {"values": [0, 100, 200, 300, 400, 500, 600, 700], "format": "d", "title": ["Time (s)", "(b)"]}},
            "y": {"field": "v", "type": "quantitative", "scale": {"domain": [0.3, 0.44], "nice": false, "zero": false},
                  "axis": {"values": [0.3, 0.32, 0.34, 0.36, 0.38, 0.4, 0.42, 0.44], "format": ".2f", "title": "Pₘ (p.u.)"}},
            "color": {"field": "m", "type": "nominal",
                      "scale": {"domain": ["Method 1", "Method 2", "Method 3", "Method 4", "_", "Method 5", "Proposed"],
                                "range": ["#3a2e30", "#f4a83f", "#6a2c8e", "#2e9a5c", "rgba(0,0,0,0)", "#1ea2db", "#d8262d"]},
                      "legend": {"title": null, "labelExpr": "datum.label == '_' ? '' : (datum.label == 'Method 4' || datum.label == 'Proposed' ? datum.label : datum.label + ';')"}},
            "strokeDash": {"field": "m", "type": "nominal",
                           "scale": {"domain": ["Method 1", "Method 2", "Method 3", "Method 4", "_", "Method 5", "Proposed"],
                                     "range": [[1, 0], [1, 0], [1, 0], [1, 0], [1, 0], [10, 6], [1, 0]]},
                           "legend": {"title": null, "labelExpr": "datum.label == '_' ? '' : (datum.label == 'Method 4' || datum.label == 'Proposed' ? datum.label : datum.label + ';')"}}
          },
          "layer": [
            {"transform": [{"filter": "datum.m != 'Method 5'"}], "mark": {"type": "line"}},
            {"transform": [{"filter": "datum.m == 'Method 5'"}], "mark": {"type": "line"}}
          ]
        }
      ]
    },
    {
      "spacing": -8,
      "vconcat": [
        {
          "width": 770,
          "height": 371,
          "data": {"name": "c"},
          "encoding": {
            "x": {"field": "t", "type": "quantitative", "scale": {"domain": [0, 700], "nice": false},
                  "axis": {"values": [0, 100, 200, 300, 400, 500, 600, 700], "format": "d", "title": ["Time (s)", "(c)"]}},
            "y": {"field": "v", "type": "quantitative", "scale": {"domain": [9.7, 10.6], "nice": false, "zero": false},
                  "axis": {"values": [9.7, 9.8, 9.9, 10.0, 10.1, 10.2, 10.3, 10.4, 10.5, 10.6], "format": ".1f", "title": "pₜ (MPa)"}},
            "color": {"field": "m", "type": "nominal",
                      "scale": {"domain": ["Method 1", "Method 2", "Method 3", "Method 4", "_", "Method 5", "Proposed"],
                                "range": ["#3a2e30", "#f4a83f", "#6a2c8e", "#2e9a5c", "rgba(0,0,0,0)", "#1ea2db", "#d8262d"]},
                      "legend": {"title": null, "labelExpr": "datum.label == '_' ? '' : (datum.label == 'Method 4' || datum.label == 'Proposed' ? datum.label : datum.label + ';')"}},
            "strokeDash": {"field": "m", "type": "nominal",
                           "scale": {"domain": ["Method 1", "Method 2", "Method 3", "Method 4", "_", "Method 5", "Proposed"],
                                     "range": [[1, 0], [1, 0], [1, 0], [1, 0], [1, 0], [10, 6], [1, 0]]},
                           "legend": {"title": null, "labelExpr": "datum.label == '_' ? '' : (datum.label == 'Method 4' || datum.label == 'Proposed' ? datum.label : datum.label + ';')"}}
          },
          "layer": [
            {"transform": [{"filter": "datum.m != 'Method 5'"}], "mark": {"type": "line"}},
            {"transform": [{"filter": "datum.m == 'Method 5'"}], "mark": {"type": "line"}}
          ]
        },
        {
          "width": 770,
          "height": 372,
          "data": {"name": "d"},
          "encoding": {
            "x": {"field": "t", "type": "quantitative", "scale": {"domain": [0, 700], "nice": false},
                  "axis": {"values": [0, 100, 200, 300, 400, 500, 600, 700], "format": "d", "title": ["Time (s)", "(d)"]}},
            "y": {"field": "v", "type": "quantitative", "scale": {"domain": [0.3, 0.46], "nice": false, "zero": false},
                  "axis": {"values": [0.3, 0.32, 0.34, 0.36, 0.38, 0.4, 0.42, 0.44, 0.46], "format": ".2f", "title": "Q̇ (p.u.)"}},
            "color": {"field": "m", "type": "nominal",
                      "scale": {"domain": ["Method 1", "Method 2", "Method 3", "Method 4", "_", "Method 5", "Proposed"],
                                "range": ["#3a2e30", "#f4a83f", "#6a2c8e", "#2e9a5c", "rgba(0,0,0,0)", "#1ea2db", "#d8262d"]},
                      "legend": {"title": null, "labelExpr": "datum.label == '_' ? '' : (datum.label == 'Method 4' || datum.label == 'Proposed' ? datum.label : datum.label + ';')"}},
            "strokeDash": {"field": "m", "type": "nominal",
                           "scale": {"domain": ["Method 1", "Method 2", "Method 3", "Method 4", "_", "Method 5", "Proposed"],
                                     "range": [[1, 0], [1, 0], [1, 0], [1, 0], [1, 0], [10, 6], [1, 0]]},
                           "legend": {"title": null, "labelExpr": "datum.label == '_' ? '' : (datum.label == 'Method 4' || datum.label == 'Proposed' ? datum.label : datum.label + ';')"}}
          },
          "layer": [
            {"transform": [{"filter": "datum.m != 'Method 5'"}], "mark": {"type": "line"}},
            {"transform": [{"filter": "datum.m == 'Method 5'"}], "mark": {"type": "line"}}
          ]
        }
      ]
    }
  ]
}
